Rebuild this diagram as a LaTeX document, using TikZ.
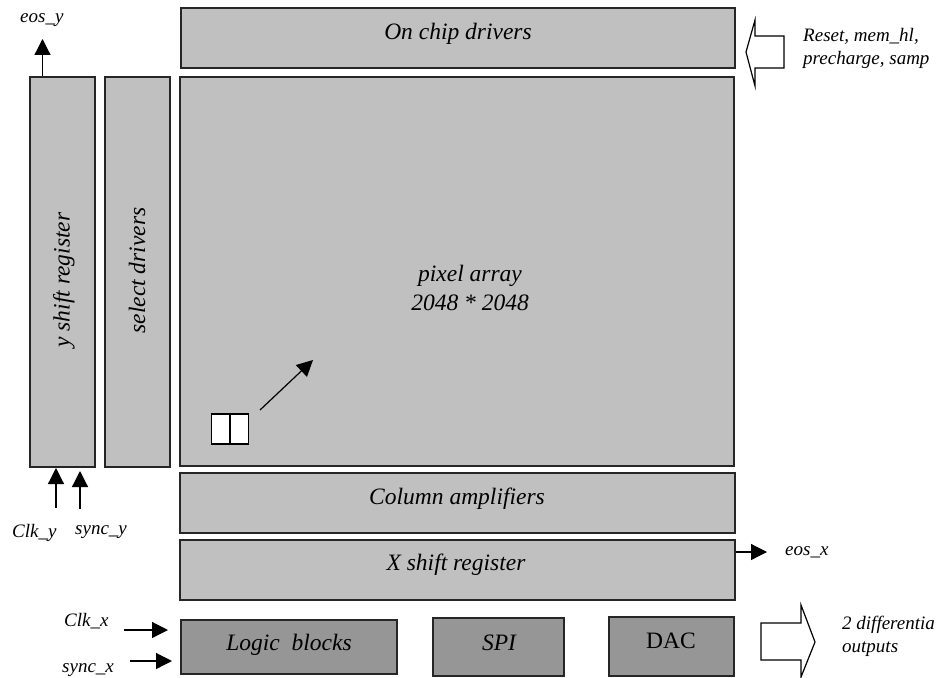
\documentclass[tikz,border=0pt]{standalone}
\usepackage{fontspec}
\setmainfont{Liberation Serif}
\usetikzlibrary{arrows.meta}
\definecolor{lightblock}{HTML}{C0C0C0}
\definecolor{darkblock}{HTML}{969696}
\tikzset{
  block/.style={draw=black!85,line width=1.2pt,fill=lightblock,inner sep=0pt},
  darkbox/.style={block,fill=darkblock},
  blocktext/.style={inner sep=0pt,font=\fontsize{23.5}{28.5}\selectfont\itshape,align=center},
  cellbox/.style={draw=black,line width=1.2pt,fill=white,inner sep=0pt,minimum width=18pt,minimum height=30pt},
  sig/.style={draw=black,line width=1.2pt,-{Triangle[width=16pt,length=16pt]}},
  bigarrow/.style={draw=black,line width=1.2pt,fill=white,line join=miter},
  lab/.style={inner sep=0pt,font=\fontsize{19}{23}\selectfont\itshape,align=left,anchor=west}
}
\begin{document}
\begin{tikzpicture}[x=1pt,y=-1pt]
\useasboundingbox (0,0) rectangle (939,677);
\node[block,minimum width=554pt,minimum height=60pt] (onchip) at (458,38) {};
\node[block,minimum width=554pt,minimum height=389pt] (pixel) at (457,271.5) {};
\node[block,minimum width=65pt,minimum height=390pt] (yshift) at (62.5,272) {};
\node[block,minimum width=65pt,minimum height=390pt] (select) at (137.5,272) {};
\node[block,minimum width=555pt,minimum height=60pt] (column) at (457.5,503) {};
\node[block,minimum width=555pt,minimum height=60pt] (xshift) at (457.5,570) {};
\node[darkbox,minimum width=216pt,minimum height=54pt] (logic) at (289,647) {};
\node[darkbox,minimum width=131pt,minimum height=58pt] (spi) at (498.5,647) {};
\node[darkbox,minimum width=125pt,minimum height=59pt] (dac) at (671.5,646.5) {};
\node[blocktext] (tonchip) at (458,34) {On chip drivers};
\node[blocktext] (tpixel) at (470,288) {pixel array\\2048 * 2048};
\node[blocktext,rotate=90] (tyshift) at (64,280) {y shift register};
\node[blocktext,rotate=90] (tselect) at (137,270.5) {select drivers};
\node[blocktext] (tcolumn) at (457,499) {Column amplifiers};
\node[blocktext] (txshift) at (456,565) {X shift register};
\node[blocktext] (tlogic) at (289,645) {Logic~~blocks};
\node[blocktext] (tspi) at (499,643) {SPI};
\node[blocktext,font=\fontsize{23.5}{28.5}\selectfont] (tdac) at (671,641) {DAC};
\node[cellbox,anchor=east] (cellA) at (230,429) {};
\node[cellbox,anchor=west] (cellB) at (230,429) {};
\node[lab] (leosy) at (20,20) {eos\_y};
\node[lab] (lclky) at (12,533) {Clk\_y};
\node[lab] (lsyncy) at (75,532) {sync\_y};
\node[lab] (lclkx) at (64,621) {Clk\_x};
\node[lab] (lsyncx) at (62,670) {sync\_x};
\node[lab] (leosx) at (785,552) {eos\_x};
\node[lab] (lreset) at (803,48) {Reset, mem\_hl,\\precharge, samp};
\node[lab] (ldiff) at (842,636) {2 differentia\\outputs};
\coordinate (eosytip) at (42.5,39);
\coordinate (clkytail) at (56,508);
\coordinate (clkytip) at (56,468);
\coordinate (syncytail) at (80,509);
\coordinate (syncytip) at (80,471);
\coordinate (clkxtail) at (124,630);
\coordinate (clkxtip) at (168,630);
\coordinate (syncxtail) at (130,661);
\coordinate (syncxtip) at (172,661);
\coordinate (eosxtip) at (767,552);
\coordinate (celltail) at (260,410);
\coordinate (celltip) at (313,360);
\draw[sig] (yshift.north -| eosytip) -- (eosytip);
\draw[sig] (clkytail) -- (clkytip);
\draw[sig] (syncytail) -- (syncytip);
\draw[sig] (clkxtail) -- (clkxtip);
\draw[sig] (syncxtail) -- (syncxtip);
\draw[sig] (xshift.east |- eosxtip) -- (eosxtip);
\draw[sig] (celltail) -- (celltip);
\draw[bigarrow] (746,52) -- (755,20) -- (755,36) -- (784,36) -- (784,68) -- (755,68) -- (755,86) -- cycle;
\draw[bigarrow] (815,642) -- (801,605) -- (801,623) -- (761,623) -- (761,660) -- (801,660) -- (801,677) -- cycle;
\end{tikzpicture}
\end{document}
